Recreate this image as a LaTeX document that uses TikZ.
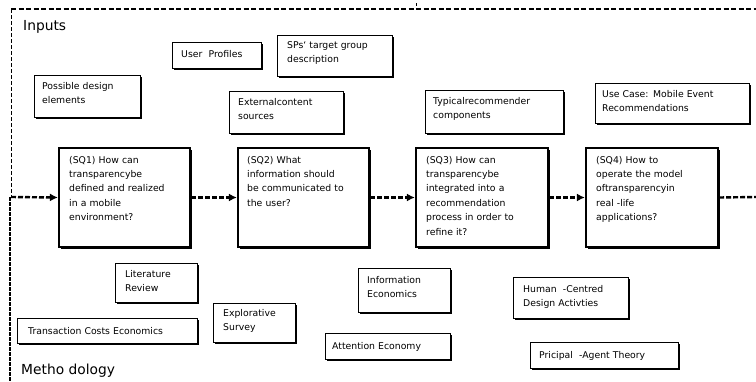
\documentclass[tikz,border=0pt]{standalone}
\usepackage{fontspec}
\setmainfont{DejaVu Sans}
\usetikzlibrary{fit,shadows,arrows.meta}
\tikzset{
  bx/.style={draw, fill=white, line width=1pt, inner sep=0pt,
    drop shadow={shadow xshift=1.6pt, shadow yshift=-1.6pt, fill=black, opacity=1}},
  sqbx/.style={bx, line width=2.2pt},
  txt/.style={anchor=base west, inner sep=0pt, text width=180pt, align=left,
    font=\fontsize{9.3}{14.4}\selectfont},
  flow/.style={line width=2.4pt, dash pattern=on 5pt off 2pt},
  tip/.style={-{Latex[length=8pt,width=8pt]}},
  frametop/.style={line width=1.8pt, dash pattern=on 5pt off 2.5pt},
  frameup/.style={line width=0.9pt, dash pattern=on 4pt off 2pt},
  framelow/.style={line width=2.2pt, dash pattern=on 3.5pt off 1.5pt},
  title/.style={anchor=base west, inner sep=0pt, font=\fontsize{13.8}{16}\selectfont},
}
\newcommand\mybox[9]{%
  \node[#1, fit={(#3,#4) (#5,#6)}] (#2) {};
  \node[txt] (#2t) at (#7,#8) {#9};}
\begin{document}
\begin{tikzpicture}[x=1pt,y=-1pt]
\useasboundingbox (0,0) rectangle (756,381);
% frame
\coordinate (ftl) at (11,9);
\coordinate (ftr) at (756,9);
\coordinate (fml) at (11,197);
\coordinate (fbl) at (10,381);
\coordinate (fmm) at (10,197);
\coordinate (fmr) at (756,197);
\coordinate (tk1) at (416,3);
\coordinate (tk2) at (416,6);
\draw[frametop] (ftl) -- (ftr);
\draw[frameup] (ftl) -- (fml);
\draw[framelow] (fmm) -- (fbl);
\draw[line width=0.8pt] (tk1) -- (tk2);
\node[title] (inputs) at (23,30) {Inputs};
\node[title] (meth) at (21,374) {Metho dology};
% inputs
\mybox{bx}{up}{172}{42}{261}{68}{181}{57}{User\ \ Profiles}
\mybox{bx}{sp}{277}{35}{392}{76}{287}{48}{SPs‘ target group\\description}
\mybox{bx}{pde}{34}{75}{140}{117}{42}{89}{Possible design\\elements}
\mybox{bx}{ext}{229}{91}{343}{133}{238}{105}{Externalcontent\\sources}
\mybox{bx}{typ}{425}{90}{563}{133}{433}{104}{Typicalrecommender\\components}
\mybox{bx}{uc}{595}{83}{749}{123}{602}{97}{Use Case: Mobile Event\\Recommendations}
% research questions
\mybox{sqbx}{sq1}{59}{148}{190}{247}{69}{163}{(SQ1) How can\\transparencybe\\defined and realized\\in a mobile\\environment?}
\mybox{sqbx}{sq2}{238}{148}{369}{247}{247}{163}{(SQ2) What\\information should\\be communicated to\\the user?}
\mybox{sqbx}{sq3}{416}{148}{548}{247}{426}{163}{(SQ3) How can\\transparencybe\\integrated into a\\recommendation\\process in order to\\refine it?}
\mybox{sqbx}{sq4}{586}{148}{718}{247}{596}{163}{(SQ4) How to\\operate the model\\oftransparencyin\\real -life\\applications?}
% methodology
\mybox{bx}{lit}{115}{263}{197}{302}{125}{277}{Literature\\Review}
\mybox{bx}{tce}{17}{318}{197}{343}{28}{334}{Transaction Costs Economics}
\mybox{bx}{exp}{213}{303}{295}{342}{223}{316}{Explorative\\Survey}
\mybox{bx}{inf}{358}{268}{450}{312}{367}{283}{Information\\Economics}
\mybox{bx}{att}{325}{333}{450}{359}{332}{349}{Attention Economy}
\mybox{bx}{hcd}{513}{277}{628}{318}{523}{292}{Human\ \ -Centred\\Design Activties}
\mybox{bx}{pa}{530}{342}{678}{368}{539}{358}{Pricipal\ \ -Agent Theory}
% flow
\draw[flow,tip] (fml) -- (sq1.west);
\draw[flow,tip] (sq1.east) -- (sq2.west);
\draw[flow,tip] (sq2.east) -- (sq3.west);
\draw[flow,tip] (sq3.east) -- (sq4.west);
\draw[flow] (sq4.east) -- (fmr);
\end{tikzpicture}
\end{document}
